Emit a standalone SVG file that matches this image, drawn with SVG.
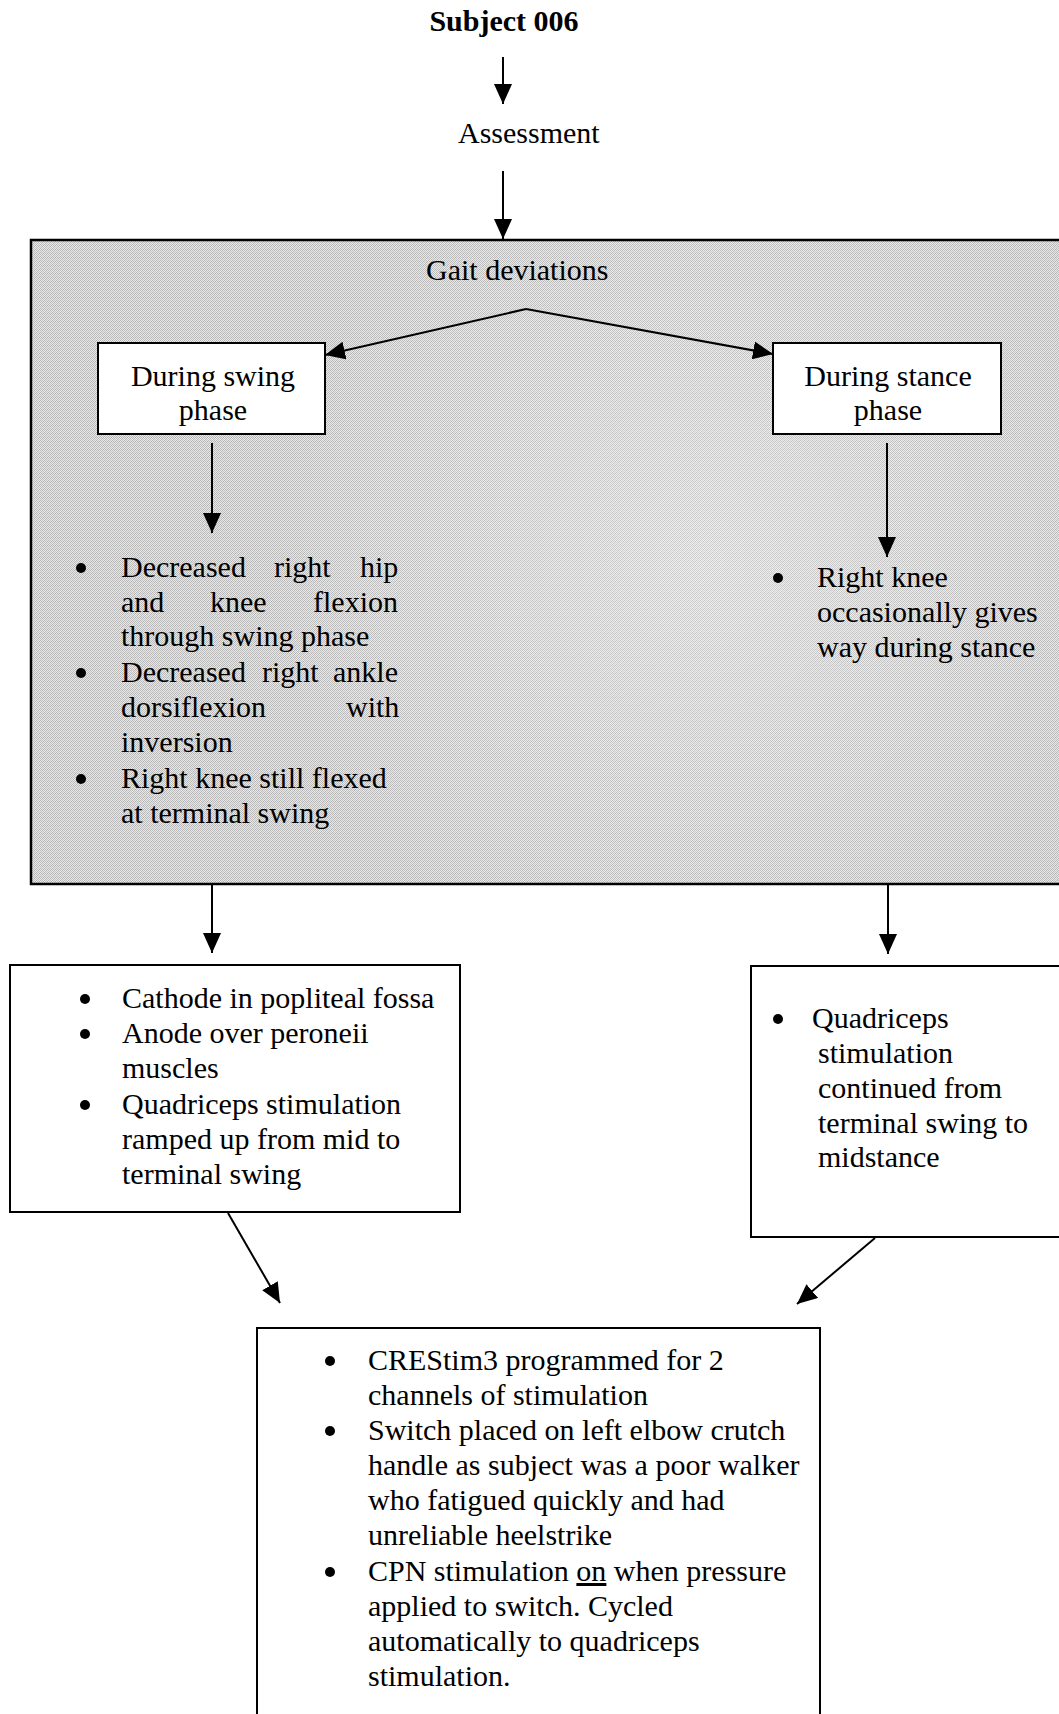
<svg xmlns="http://www.w3.org/2000/svg" width="1059" height="1714" viewBox="0 0 1059 1714">
  <style>
    text { font-family: "Liberation Serif", "Times New Roman", serif; font-size: 30px; fill: #000; }
    .bold { font-weight: bold; }
    .mid { text-anchor: middle; }
    .box { fill: #fff; stroke: #000; stroke-width: 2; }
    .conn { fill: none; stroke: #000; stroke-width: 2; marker-end: url(#head); }
    .dot { fill: #000; }
  </style>
  <defs>
    <marker id="head" viewBox="0 0 20 18" refX="20" refY="9" markerWidth="20" markerHeight="18" markerUnits="userSpaceOnUse" orient="auto">
      <path d="M0,0 L20,9 L0,18 z" fill="#000"/>
    </marker>
    <!-- dithered halftone fill for the shaded panel -->
    <pattern id="grain" width="4" height="4" patternUnits="userSpaceOnUse">
      <rect width="4" height="4" fill="#e8e8e8"/>
      <rect x="0" y="0" width="1" height="1" fill="#b6b6b6"/>
      <rect x="2" y="0" width="1" height="1" fill="#c0c0c0"/>
      <rect x="1" y="1" width="1" height="1" fill="#bcbcbc"/>
      <rect x="3" y="1" width="1" height="1" fill="#aeaeae"/>
      <rect x="0" y="2" width="1" height="1" fill="#c2c2c2"/>
      <rect x="2" y="2" width="1" height="1" fill="#b4b4b4"/>
      <rect x="1" y="3" width="1" height="1" fill="#b8b8b8"/>
      <rect x="3" y="3" width="1" height="1" fill="#c6c6c6"/>
    </pattern>
    <radialGradient id="glow" cx="700" cy="560" r="430" gradientUnits="userSpaceOnUse">
      <stop offset="0" stop-color="#fff" stop-opacity="0.3"/>
      <stop offset="1" stop-color="#fff" stop-opacity="0"/>
    </radialGradient>
  </defs>

  <rect width="1059" height="1714" fill="#fff"/>

  <g id="subject">
    <text class="bold mid" x="504" y="31">Subject 006</text>
  </g>

  <g id="assessment">
    <text x="458" y="143">Assessment</text>
  </g>

  <g id="gait-deviations">
    <rect x="31" y="240" width="1040" height="644" fill="url(#grain)" stroke="#000" stroke-width="2.5"/>
    <rect x="33" y="242" width="1030" height="640" fill="url(#glow)"/>
    <text x="426" y="280">Gait deviations</text>
  </g>

  <g id="swing-phase">
    <rect class="box" x="98" y="343" width="227" height="91"/>
    <text class="mid" x="213" y="386">During swing</text>
    <text class="mid" x="213" y="420">phase</text>
  </g>

  <g id="stance-phase">
    <rect class="box" x="773" y="343" width="228" height="91"/>
    <text class="mid" x="888" y="386">During stance</text>
    <text class="mid" x="888" y="420">phase</text>
  </g>

  <g id="swing-deviations">
    <circle class="dot" cx="81" cy="568" r="5"/>
    <text y="577"><tspan x="121">Decreased</tspan><tspan x="274">right</tspan><tspan x="360">hip</tspan></text>
    <text y="612"><tspan x="121">and</tspan><tspan x="210">knee</tspan><tspan x="313">flexion</tspan></text>
    <text x="121" y="646">through swing phase</text>
    <circle class="dot" cx="81" cy="673" r="5"/>
    <text y="682"><tspan x="121">Decreased</tspan><tspan x="262">right</tspan><tspan x="333">ankle</tspan></text>
    <text y="717"><tspan x="121">dorsiflexion</tspan><tspan x="346">with</tspan></text>
    <text x="121" y="752">inversion</text>
    <circle class="dot" cx="81" cy="779" r="5"/>
    <text x="121" y="788">Right knee still flexed</text>
    <text x="121" y="823">at terminal swing</text>
  </g>

  <g id="stance-deviations">
    <circle class="dot" cx="778" cy="578" r="5"/>
    <text x="817" y="587">Right knee</text>
    <text x="817" y="622">occasionally gives</text>
    <text x="817" y="657">way during stance</text>
  </g>

  <g id="swing-stimulation">
    <rect class="box" x="10" y="965" width="450" height="247"/>
    <circle class="dot" cx="85" cy="999" r="5"/>
    <text x="122" y="1008">Cathode in popliteal fossa</text>
    <circle class="dot" cx="85" cy="1034" r="5"/>
    <text x="122" y="1043">Anode over peroneii</text>
    <text x="122" y="1078">muscles</text>
    <circle class="dot" cx="85" cy="1105" r="5"/>
    <text x="122" y="1114">Quadriceps stimulation</text>
    <text x="122" y="1149">ramped up from mid to</text>
    <text x="122" y="1184">terminal swing</text>
  </g>

  <g id="stance-stimulation">
    <rect class="box" x="751" y="966" width="320" height="271"/>
    <circle class="dot" cx="778" cy="1019" r="5"/>
    <text x="812" y="1028">Quadriceps</text>
    <text x="818" y="1063">stimulation</text>
    <text x="818" y="1098">continued from</text>
    <text x="818" y="1133">terminal swing to</text>
    <text x="818" y="1167">midstance</text>
  </g>

  <g id="programme">
    <rect class="box" x="257" y="1328" width="563" height="400"/>
    <circle class="dot" cx="330" cy="1361" r="5"/>
    <text x="368" y="1370">CREStim3 programmed for 2</text>
    <text x="368" y="1405">channels of stimulation</text>
    <circle class="dot" cx="330" cy="1431" r="5"/>
    <text x="368" y="1440">Switch placed on left elbow crutch</text>
    <text x="368" y="1475">handle as subject was a poor walker</text>
    <text x="368" y="1510">who fatigued quickly and had</text>
    <text x="368" y="1545">unreliable heelstrike</text>
    <circle class="dot" cx="330" cy="1572" r="5"/>
    <text x="368" y="1581">CPN stimulation <tspan text-decoration="underline">on</tspan> when pressure</text>
    <text x="368" y="1616">applied to switch. Cycled</text>
    <text x="368" y="1651">automatically to quadriceps</text>
    <text x="368" y="1686">stimulation.</text>
  </g>

  <g id="connectors">
    <line class="conn" x1="503" y1="57" x2="503" y2="104"/>
    <line class="conn" x1="503" y1="171" x2="503" y2="239"/>
    <polyline class="conn" points="526,309 325,355"/>
    <polyline class="conn" points="526,309 773,354"/>
    <line class="conn" x1="212" y1="443" x2="212" y2="533"/>
    <line class="conn" x1="887" y1="443" x2="887" y2="557"/>
    <line class="conn" x1="212" y1="885" x2="212" y2="953"/>
    <line class="conn" x1="888" y1="885" x2="888" y2="954"/>
    <line class="conn" x1="228" y1="1213" x2="280" y2="1303"/>
    <line class="conn" x1="875" y1="1238" x2="797" y2="1304"/>
  </g>
</svg>
